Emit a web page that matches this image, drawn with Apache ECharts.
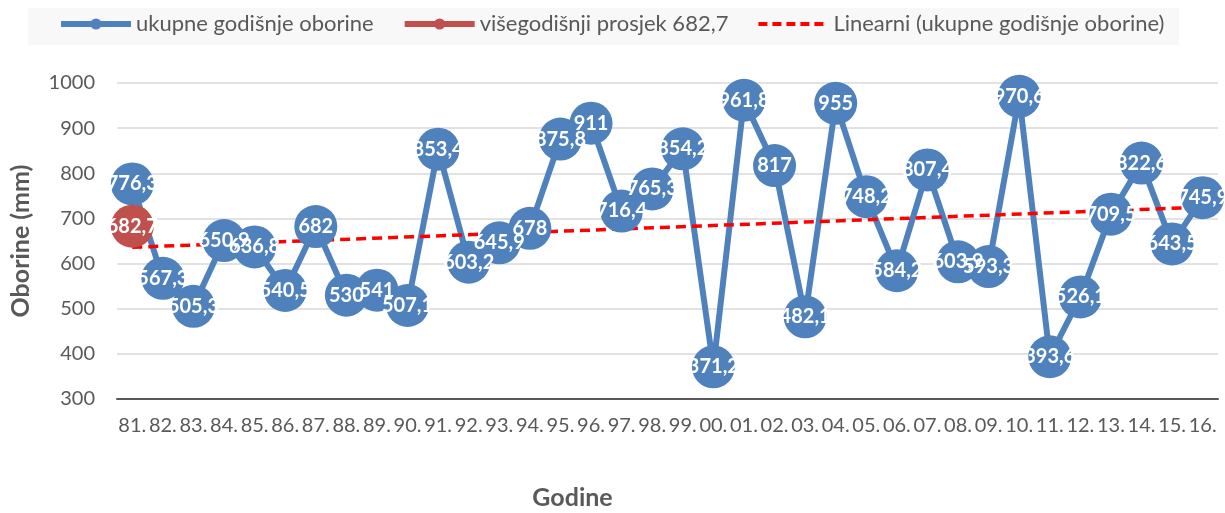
<!DOCTYPE html>
<html>
<head>
<meta charset="utf-8">
<script src="https://cdn.jsdelivr.net/npm/echarts@6/dist/echarts.min.js"></script>
<style>
  html, body { margin: 0; padding: 0; background: #fff; }
  #chart { width: 1225px; height: 513px; }
</style>
</head>
<body>
<div id="chart"></div>
<script>
var years = ['81.', '82.', '83.', '84.', '85.', '86.', '87.', '88.', '89.', '90.', '91.', '92.',
  '93.', '94.', '95.', '96.', '97.', '98.', '99.', '00.', '01.', '02.', '03.', '04.',
  '05.', '06.', '07.', '08.', '09.', '10.', '11.', '12.', '13.', '14.', '15.', '16.']
var oborine = [776.3, 567.3, 505.3, 650.9, 636.8, 540.5, 682, 530, 541, 507.1, 853.4, 603.2,
  645.9, 678, 875.8, 911, 716.4, 765.3, 854.2, 371.2, 961.8, 817, 482.1, 955,
  748.2, 584.2, 807.4, 603.9, 593.3, 970.6, 393.6, 526.1, 709.5, 822.6, 643.5, 745.9]
// prosjek je samo jedna točka na početku
var prosjek = [682.7]
// krajnje točke linearnog trenda, očitane sa slike
var trendStart = 636
var trendEnd = 725
var yTicks = [300, 400, 500, 600, 700, 800, 900, 1000]

var prosjekData = years.map(function (y, i) { return i < prosjek.length ? prosjek[i] : null })
var trendData = years.map(function (y, i) {
  if (i === 0) return trendStart
  if (i === years.length - 1) return trendEnd
  return null
})

var fontFam = 'Lato, "Open Sans", sans-serif'
var labelFmt = function (p) { return String(p.value).replace('.', ',') }

var myChart = echarts.init(document.getElementById('chart'))
var option = {
  animation: false,
  textStyle: { fontFamily: fontFam },
  graphic: [{
    type: 'rect',
    shape: { x: 28, y: 8, width: 1151, height: 37 },
    style: { fill: '#f8f8f8' },
    z: -10
  }],
  legend: {
    top: 8,
    left: 53,
    itemWidth: 70,
    itemHeight: 14,
    itemGap: 28,
    textStyle: { color: '#595959', fontSize: 22, fontFamily: fontFam },
    data: [
      { name: 'ukupne godišnje oborine', lineStyle: { width: 6 } },
      { name: 'višegodišnji prosjek 682,7', lineStyle: { width: 6 } },
      { name: 'Linearni (ukupne godišnje oborine)', itemStyle: { opacity: 0 }, lineStyle: { width: 4, type: [9, 5] } }
    ]
  },
  grid: {
    left: 117,
    right: 7,
    top: 83,
    bottom: 114,
    outerBoundsMode: 'none'
  },
  xAxis: {
    type: 'category',
    data: years,
    name: 'Godine',
    nameLocation: 'middle',
    nameGap: 86,
    nameTextStyle: { color: '#595959', fontSize: 25, fontWeight: 'bold', fontFamily: fontFam, padding: [0, 190, 0, 0] },
    axisTick: { show: false },
    axisLine: { lineStyle: { color: '#595959', width: 2 } },
    axisLabel: { color: '#595959', fontSize: 20, margin: 17, interval: 0 }
  },
  yAxis: {
    type: 'value',
    min: yTicks[0],
    max: yTicks[yTicks.length - 1],
    interval: 100,
    name: 'Oborine (mm)',
    nameLocation: 'middle',
    nameGap: 84,
    nameTextStyle: { color: '#595959', fontSize: 25, fontWeight: 'bold', fontFamily: fontFam },
    axisLine: { show: false },
    axisTick: { show: false },
    axisLabel: { color: '#595959', fontSize: 20, margin: 22, formatter: function (v) { return String(v) } },
    splitLine: { lineStyle: { color: '#d9d9d9', width: 1.5 } }
  },
  series: [
    {
      name: 'ukupne godišnje oborine',
      type: 'line',
      data: oborine,
      symbol: 'circle',
      symbolSize: 43,
      itemStyle: { color: '#4f81bd' },
      lineStyle: { color: '#4f81bd', width: 6 },
      label: {
        show: true,
        position: 'inside',
        color: '#fff',
        fontSize: 20,
        fontWeight: 'bold',
        fontFamily: fontFam,
        formatter: labelFmt
      }
    },
    {
      name: 'višegodišnji prosjek 682,7',
      type: 'line',
      data: prosjekData,
      symbol: 'circle',
      symbolSize: 43,
      itemStyle: { color: '#c0504d' },
      lineStyle: { color: '#c0504d', width: 6 },
      label: {
        show: true,
        position: 'inside',
        color: '#fff',
        fontSize: 20,
        fontWeight: 'bold',
        fontFamily: fontFam,
        formatter: labelFmt
      }
    },
    {
      name: 'Linearni (ukupne godišnje oborine)',
      type: 'line',
      data: trendData,
      connectNulls: true,
      symbol: 'none',
      itemStyle: { color: '#ff0000' },
      lineStyle: { color: '#ff0000', width: 3.5, type: [10, 6] },
      z: 3
    }
  ]
}
myChart.clear()
myChart.setOption(option)
</script>
</body>
</html>
